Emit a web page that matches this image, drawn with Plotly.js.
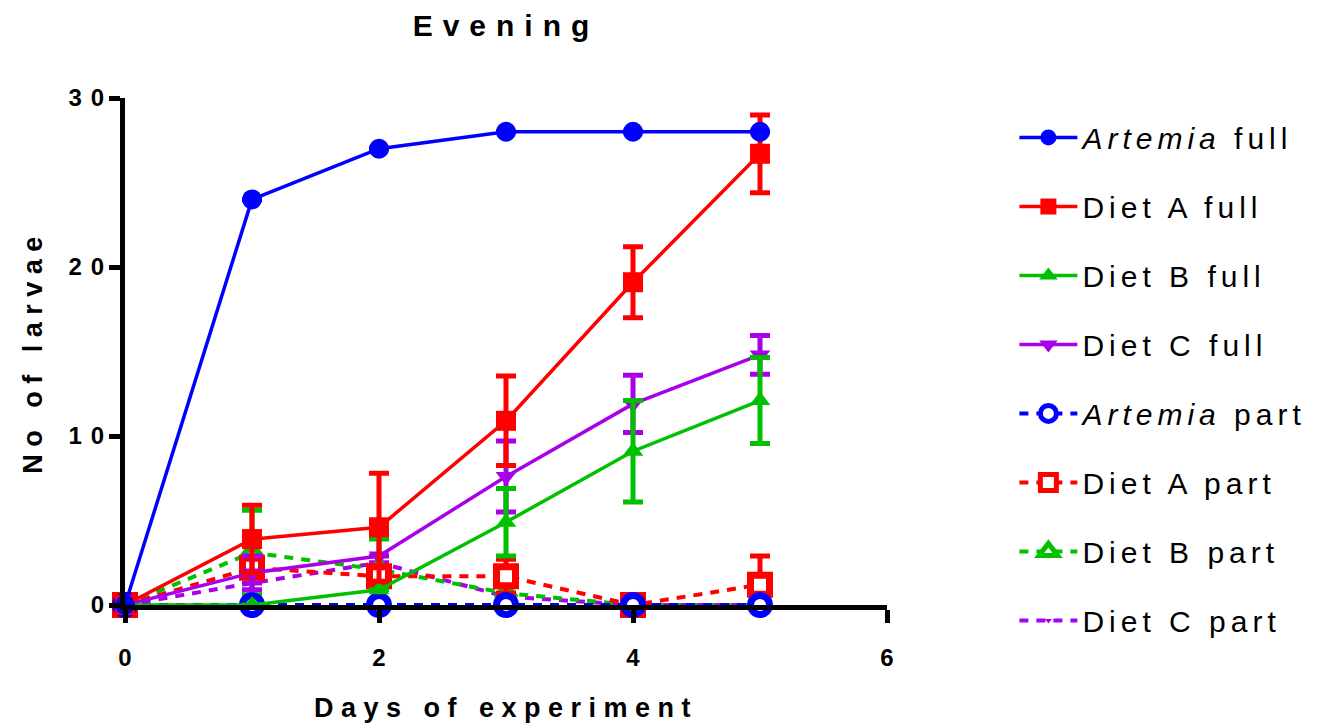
<!DOCTYPE html>
<html>
<head>
<meta charset="utf-8">
<script src="https://cdn.plot.ly/plotly-3.0.1.min.js"></script>
<style>
  html, body { margin: 0; padding: 0; background: #fff; }
  #chart { width: 1326px; height: 728px; }
  .gtitle { letter-spacing: 10px; }
  .xtitle, .ytitle { letter-spacing: 7.5px; }
  .legendtext { letter-spacing: 5px; }
</style>
</head>
<body>
<div id="chart"></div>
<script>
// ---- data ----
const days = [0, 1, 2, 3, 4, 5];
const xTicks = [0, 2, 4, 6];
const yTicks = [0, 10, 20, 30];

const artemiaFull    = [0, 24, 27, 28, 28, 28];
const artemiaFullErr = [0, 0, 0, 0, 0, 0];
const dietAFull      = [0, 3.9, 4.6, 10.9, 19.1, 26.7];
const dietAFullErr   = [0, 2.0, 3.2, 2.65, 2.1, 2.3];
const dietBFull      = [0, 0, 0.9, 4.9, 9.1, 12.1];
const dietBFullErr   = [0, 0, 0, 2.0, 3.0, 2.55];
const dietCFull      = [0, 1.9, 2.9, 7.6, 11.9, 14.8];
const dietCFullErr   = [0, 1.0, 0, 2.1, 1.7, 1.15];

const artemiaPart    = [0, 0, 0, 0, 0, 0];
const artemiaPartErr = [0, 0, 0, 0, 0, 0];
const dietAPart      = [0, 2.2, 1.7, 1.7, 0, 1.2];
const dietAPartErr   = [0, 0, 0, 1.0, 0, 1.7];
const dietBPart      = [0, 3.1, 2.1, 0.7, 0, 0];
const dietBPartErr   = [0, 2.5, 1.8, 0, 0, 0];
const dietCPart      = [0, 1.3, 2.5, 0.5, 0, 0];
const dietCPartErr   = [0, 0, 0, 0, 0, 0];

const names = ['<i>Artemia</i> full', 'Diet A full', 'Diet B full', 'Diet C full',
               '<i>Artemia</i> part', 'Diet A part', 'Diet B part', 'Diet C part'];

// ---- styles ----
const BLUE = '#0000ff', RED = '#ff0000', GREEN = '#00c000', PURPLE = '#a800e8';
const FONT = 'Liberation Sans, Arial, sans-serif';

// spaced tick label: letter spacing between digits, none after the last one
function spaced(v) {
  const s = String(v);
  if (s.length < 2) return s;
  return '<span style="letter-spacing:9px">' + s.slice(0, -1) + '</span>' + s.slice(-1);
}

function mk(name, y, err, color, rank, sym, msize, open, dash, mlw) {
  return {
    type: 'scatter', mode: 'lines+markers', x: days, y: y, name: name,
    legendgroup: 'g' + rank, legendrank: rank, cliponaxis: false,
    line: { color: color, width: dash ? 4 : 3.5, dash: dash ? '9px,8px' : 'solid' },
    marker: {
      symbol: sym, size: msize,
      color: open ? '#ffffff' : color,
      line: { color: color, width: open ? mlw : 0 }
    },
    error_y: { type: 'data', array: err, visible: true, color: color, thickness: 5, width: 10 }
  };
}

// draw order: parts (reversed) first, then fulls (reversed)
const data = [
  mk(names[7], dietCPart, dietCPartErr, PURPLE, 8, 'triangle-down', 6, false, true),
  mk(names[6], dietBPart, dietBPartErr, GREEN, 7, 'triangle-up', 17, true, true, 6),
  mk(names[5], dietAPart, dietAPartErr, RED, 6, 'square', 19, true, true, 7),
  mk(names[4], artemiaPart, artemiaPartErr, BLUE, 5, 'circle', 19, true, true, 7),
  mk(names[3], dietCFull, dietCFullErr, PURPLE, 4, 'triangle-down', 18, false, false),
  mk(names[2], dietBFull, dietBFullErr, GREEN, 3, 'triangle-up', 18, false, false),
  mk(names[1], dietAFull, dietAFullErr, RED, 2, 'square', 20, false, false),
  mk(names[0], artemiaFull, artemiaFullErr, BLUE, 1, 'circle', 20, false, false)
];

const layout = {
  width: 1326, height: 728,
  margin: { l: 125, r: 439, t: 98, b: 123, pad: 0 },
  paper_bgcolor: '#ffffff', plot_bgcolor: '#ffffff',
  font: { family: FONT, color: '#000000' },
  showlegend: true,
  title: {
    text: 'Evening', x: 0.5, xref: 'paper', xanchor: 'center',
    y: 0.965, yref: 'container', yanchor: 'middle',
    font: { family: FONT, size: 30, weight: 'bold', color: '#000' }
  },
  xaxis: {
    range: [0, 6], tickvals: xTicks, ticktext: xTicks.map(spaced),
    showgrid: false, zeroline: false, showline: true, linewidth: 5, linecolor: '#000',
    ticks: 'outside', ticklen: 13, tickwidth: 5, tickcolor: '#000',
    ticklabelstandoff: 14,
    tickfont: { family: FONT, size: 24, weight: 'bold', color: '#000' },
    title: { text: 'Days of experiment', standoff: 30,
             font: { family: FONT, size: 27, weight: 'bold', color: '#000' } },
    fixedrange: true
  },
  yaxis: {
    range: [0, 30], tickvals: yTicks, ticktext: yTicks.map(spaced),
    showgrid: false, zeroline: false, showline: true, linewidth: 5, linecolor: '#000',
    ticks: 'outside', ticklen: 11, tickwidth: 5, tickcolor: '#000',
    ticklabelstandoff: 0,
    tickfont: { family: FONT, size: 24, weight: 'bold', color: '#000' },
    title: { text: 'No of larvae', standoff: 20,
             font: { family: FONT, size: 27, weight: 'bold', color: '#000' } },
    fixedrange: true
  },
  legend: {
    xref: 'container', yref: 'container',
    x: 0.765, xanchor: 'left', y: 0.847, yanchor: 'top',
    font: { family: FONT, size: 30, color: '#000' },
    tracegroupgap: 27, itemwidth: 58, maxheight: 700,
    bgcolor: 'rgba(0,0,0,0)', borderwidth: 0
  }
};

Plotly.newPlot('chart', data, layout, { displayModeBar: false, staticPlot: true });
</script>
</body>
</html>
